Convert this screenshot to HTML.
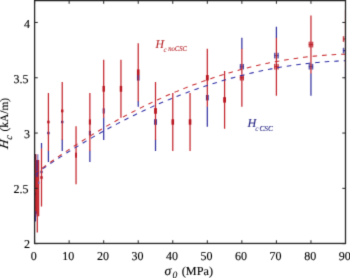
<!DOCTYPE html>
<html><head><meta charset="utf-8"><style>
html,body{margin:0;padding:0;background:#fff;}
body{width:350px;height:278px;overflow:hidden;}
svg{display:block;}
text{font-family:"Liberation Serif","DejaVu Serif",serif;text-rendering:geometricPrecision;}
.t text{font-size:12px;fill:#000;stroke:#000;stroke-width:0.12px;}
.i{font-style:italic;}
</style></head><body>
<svg width="350" height="278" viewBox="0 0 350 278">
<defs><filter id="b" x="0" y="0" width="350" height="278" filterUnits="userSpaceOnUse" color-interpolation-filters="sRGB"><feConvolveMatrix order="3" kernelMatrix="0.0144 0.0912 0.0144 0.0912 0.5776 0.0912 0.0144 0.0912 0.0144" edgeMode="duplicate"/></filter>
<clipPath id="c"><rect x="34.6" y="0" width="310.9" height="243.4"/></clipPath></defs>
<g filter="url(#b)">
<rect width="350" height="278" fill="#fff"/>
<g clip-path="url(#c)">
<line x1="35.40" y1="154.20" x2="35.40" y2="221.60" stroke="rgb(52,50,160)" stroke-width="1.25"/>
<line x1="37.80" y1="154.20" x2="37.80" y2="162.00" stroke="rgb(120,120,200)" stroke-width="1.25"/>
<line x1="41.51" y1="143.00" x2="41.51" y2="148.83" stroke="rgb(52,50,160)" stroke-width="1.25"/>
<line x1="48.42" y1="150.67" x2="48.42" y2="162.03" stroke="rgb(52,50,160)" stroke-width="1.25"/>
<line x1="62.24" y1="139.61" x2="62.24" y2="150.97" stroke="rgb(52,50,160)" stroke-width="1.25"/>
<line x1="89.87" y1="150.67" x2="89.87" y2="162.03" stroke="rgb(52,50,160)" stroke-width="1.25"/>
<line x1="103.69" y1="117.49" x2="103.69" y2="139.91" stroke="rgb(52,50,160)" stroke-width="1.25"/>
<line x1="138.23" y1="100.90" x2="138.23" y2="106.73" stroke="rgb(52,50,160)" stroke-width="1.25"/>
<line x1="155.51" y1="139.61" x2="155.51" y2="150.97" stroke="rgb(52,50,160)" stroke-width="1.25"/>
<line x1="207.32" y1="106.43" x2="207.32" y2="126.64" stroke="rgb(52,50,160)" stroke-width="1.25"/>
<line x1="241.87" y1="37.71" x2="241.87" y2="49.07" stroke="rgb(52,50,160)" stroke-width="1.25"/>
<line x1="276.41" y1="26.65" x2="276.41" y2="38.01" stroke="rgb(52,50,160)" stroke-width="1.25"/>
<line x1="310.96" y1="73.25" x2="310.96" y2="95.67" stroke="rgb(52,50,160)" stroke-width="1.25"/>
<line x1="345.50" y1="67.72" x2="345.50" y2="79.63" stroke="rgb(52,50,160)" stroke-width="1.25"/>
<rect x="40.41" y="170.78" width="2.2" height="2.4" fill="rgb(50,45,150)"/>
<rect x="47.22" y="131.85" width="2.4" height="2.4" fill="rgb(50,45,150)"/>
<rect x="61.04" y="120.79" width="2.4" height="2.4" fill="rgb(50,45,150)"/>
<rect x="88.87" y="130.85" width="2.0" height="4.4" fill="rgb(50,45,150)"/>
<rect x="102.69" y="108.33" width="2.0" height="5.2" fill="rgb(50,45,150)"/>
<rect x="136.93" y="74.95" width="2.6" height="5.6" fill="rgb(50,45,150)"/>
<rect x="154.11" y="119.19" width="2.8" height="5.6" fill="rgb(50,45,150)"/>
<rect x="205.92" y="94.96" width="2.8" height="5.4" fill="rgb(50,45,150)"/>
<rect x="239.87" y="63.99" width="4.00" height="5.40" fill="rgb(50,45,150)" fill-opacity="0.32"/>
<path d="M240.32,63.99V69.39M243.42,63.99V69.39M239.87,66.69H243.87" stroke="rgb(50,45,150)" stroke-width="0.85" fill="none"/>
<line x1="241.87" y1="63.99" x2="241.87" y2="69.39" stroke="rgb(50,45,150)" stroke-width="1" stroke-opacity="0.6"/>
<rect x="274.21" y="52.83" width="4.40" height="5.60" fill="rgb(50,45,150)" fill-opacity="0.32"/>
<path d="M274.66,52.83V58.43M278.16,52.83V58.43M274.21,55.63H278.61" stroke="rgb(50,45,150)" stroke-width="0.85" fill="none"/>
<line x1="276.41" y1="52.83" x2="276.41" y2="58.43" stroke="rgb(50,45,150)" stroke-width="1" stroke-opacity="0.6"/>
<rect x="308.76" y="63.89" width="4.40" height="5.60" fill="rgb(50,45,150)" fill-opacity="0.32"/>
<path d="M309.21,63.89V69.49M312.71,63.89V69.49M308.76,66.69H313.16" stroke="rgb(50,45,150)" stroke-width="0.85" fill="none"/>
<line x1="310.96" y1="63.89" x2="310.96" y2="69.49" stroke="rgb(50,45,150)" stroke-width="1" stroke-opacity="0.6"/>
<rect x="34.7" y="154.2" width="1.3" height="5.8" fill="rgb(105,25,60)"/>
<line x1="36.60" y1="154.20" x2="36.60" y2="160.00" stroke="rgb(228,130,128)" stroke-width="1.0"/>
<line x1="35.30" y1="159.80" x2="35.30" y2="211.00" stroke="rgb(196,38,45)" stroke-width="1.3"/>
<line x1="38.60" y1="160.00" x2="38.60" y2="216.30" stroke="rgb(196,38,45)" stroke-width="1.3"/>
<line x1="36.60" y1="177.00" x2="36.60" y2="214.00" stroke="rgb(196,38,45)" stroke-width="1.3"/>
<line x1="37.30" y1="165.00" x2="37.30" y2="232.60" stroke="rgb(196,38,45)" stroke-width="1.25"/>
<rect x="35.95" y="160" width="2.2" height="17" fill="rgb(115,45,110)"/>
<rect x="34.9" y="211" width="1.6" height="5.5" fill="rgb(110,45,125)"/>
<rect x="38.0" y="181.6" width="1.4" height="2.2" fill="rgb(120,90,170)"/>
<rect x="34.2" y="192.6" width="1.4" height="2.2" fill="rgb(120,20,30)"/>
<line x1="41.51" y1="148.53" x2="41.51" y2="206.49" stroke="rgb(196,38,45)" stroke-width="1.25"/>
<line x1="48.42" y1="93.01" x2="48.42" y2="150.97" stroke="rgb(196,38,45)" stroke-width="1.25"/>
<line x1="62.24" y1="81.95" x2="62.24" y2="139.91" stroke="rgb(196,38,45)" stroke-width="1.25"/>
<line x1="76.05" y1="126.19" x2="76.05" y2="184.15" stroke="rgb(196,38,45)" stroke-width="1.25"/>
<line x1="89.87" y1="93.01" x2="89.87" y2="150.97" stroke="rgb(196,38,45)" stroke-width="1.25"/>
<line x1="103.69" y1="59.83" x2="103.69" y2="117.79" stroke="rgb(196,38,45)" stroke-width="1.25"/>
<line x1="120.96" y1="59.83" x2="120.96" y2="117.79" stroke="rgb(196,38,45)" stroke-width="1.25"/>
<line x1="138.23" y1="43.24" x2="138.23" y2="101.20" stroke="rgb(196,38,45)" stroke-width="1.25"/>
<line x1="155.51" y1="81.95" x2="155.51" y2="139.91" stroke="rgb(196,38,45)" stroke-width="1.25"/>
<line x1="172.78" y1="93.01" x2="172.78" y2="150.97" stroke="rgb(196,38,45)" stroke-width="1.25"/>
<line x1="190.05" y1="93.01" x2="190.05" y2="150.97" stroke="rgb(196,38,45)" stroke-width="1.25"/>
<line x1="207.32" y1="48.77" x2="207.32" y2="106.73" stroke="rgb(196,38,45)" stroke-width="1.25"/>
<line x1="224.59" y1="70.89" x2="224.59" y2="128.85" stroke="rgb(196,38,45)" stroke-width="1.25"/>
<line x1="241.87" y1="48.77" x2="241.87" y2="106.73" stroke="rgb(196,38,45)" stroke-width="1.25"/>
<line x1="276.41" y1="37.71" x2="276.41" y2="95.67" stroke="rgb(196,38,45)" stroke-width="1.25"/>
<line x1="310.96" y1="15.59" x2="310.96" y2="73.55" stroke="rgb(196,38,45)" stroke-width="1.25"/>
<line x1="345.50" y1="10.06" x2="345.50" y2="68.02" stroke="rgb(196,38,45)" stroke-width="1.25"/>
<rect x="40.31" y="176.21" width="2.4" height="2.6" fill="rgb(185,22,32)"/>
<rect x="47.22" y="120.69" width="2.4" height="2.6" fill="rgb(185,22,32)"/>
<rect x="61.04" y="109.53" width="2.4" height="2.8" fill="rgb(185,22,32)"/>
<rect x="75.15" y="152.67" width="1.8" height="5" fill="rgb(185,22,32)"/>
<rect x="88.87" y="119.39" width="2.0" height="5.2" fill="rgb(185,22,32)"/>
<rect x="102.49" y="85.91" width="2.4" height="5.8" fill="rgb(185,22,32)"/>
<rect x="119.76" y="85.91" width="2.4" height="5.8" fill="rgb(185,22,32)"/>
<rect x="136.93" y="69.42" width="2.6" height="5.6" fill="rgb(185,22,32)"/>
<rect x="154.11" y="108.13" width="2.8" height="5.6" fill="rgb(185,22,32)"/>
<rect x="171.48" y="119.29" width="2.6" height="5.4" fill="rgb(185,22,32)"/>
<rect x="188.75" y="119.29" width="2.6" height="5.4" fill="rgb(185,22,32)"/>
<rect x="205.92" y="75.05" width="2.8" height="5.4" fill="rgb(185,22,32)"/>
<rect x="223.19" y="97.17" width="2.8" height="5.4" fill="rgb(185,22,32)"/>
<rect x="239.87" y="75.05" width="4.00" height="5.40" fill="rgb(185,22,32)" fill-opacity="0.32"/>
<path d="M240.32,75.05V80.45M243.42,75.05V80.45M239.87,77.75H243.87" stroke="rgb(185,22,32)" stroke-width="0.85" fill="none"/>
<line x1="241.87" y1="75.05" x2="241.87" y2="80.45" stroke="rgb(185,22,32)" stroke-width="1" stroke-opacity="0.6"/>
<rect x="274.21" y="63.89" width="4.40" height="5.60" fill="rgb(185,22,32)" fill-opacity="0.32"/>
<path d="M274.66,63.89V69.49M278.16,63.89V69.49M274.21,66.69H278.61" stroke="rgb(185,22,32)" stroke-width="0.85" fill="none"/>
<line x1="276.41" y1="63.89" x2="276.41" y2="69.49" stroke="rgb(185,22,32)" stroke-width="1" stroke-opacity="0.6"/>
<rect x="308.76" y="41.77" width="4.40" height="5.60" fill="rgb(185,22,32)" fill-opacity="0.32"/>
<path d="M309.21,41.77V47.37M312.71,41.77V47.37M308.76,44.57H313.16" stroke="rgb(185,22,32)" stroke-width="0.85" fill="none"/>
<line x1="310.96" y1="41.77" x2="310.96" y2="47.37" stroke="rgb(185,22,32)" stroke-width="1" stroke-opacity="0.6"/>
<rect x="343.10" y="36.24" width="2.4" height="5.6" fill="rgb(185,22,32)" fill-opacity="0.25"/>
<line x1="343.30" y1="36.24" x2="343.30" y2="41.84" stroke="rgb(185,22,32)" stroke-width="0.9"/>
<line x1="343.30" y1="39.04" x2="345.50" y2="39.04" stroke="rgb(185,22,32)" stroke-width="1.1"/>
<rect x="343.10" y="47.85" width="2.4" height="5.6" fill="rgb(50,45,150)" fill-opacity="0.25"/>
<line x1="343.30" y1="47.85" x2="343.30" y2="53.45" stroke="rgb(50,45,150)" stroke-width="0.9"/>
<line x1="343.30" y1="50.65" x2="345.50" y2="50.65" stroke="rgb(50,45,150)" stroke-width="1.1"/>
<path d="M34.60,174.37 L36.33,173.16 L38.05,171.96 L39.78,170.76 L41.51,169.57 L43.24,168.39 L44.96,167.21 L46.69,166.04 L48.42,164.88 L50.14,163.72 L51.87,162.57 L53.60,161.43 L55.33,160.29 L57.05,159.16 L58.78,158.03 L60.51,156.91 L62.24,155.80 L63.96,154.70 L65.69,153.60 L67.42,152.50 L69.14,151.42 L70.87,150.34 L72.60,149.26 L74.33,148.20 L76.05,147.14 L77.78,146.08 L79.51,145.03 L81.23,143.99 L82.96,142.96 L84.69,141.93 L86.42,140.91 L88.14,139.89 L89.87,138.88 L91.60,137.88 L93.33,136.89 L95.05,135.90 L96.78,134.91 L98.51,133.94 L100.23,132.97 L101.96,132.00 L103.69,131.04 L105.42,130.09 L107.14,129.15 L108.87,128.21 L110.60,127.28 L112.32,126.36 L114.05,125.44 L115.78,124.52 L117.51,123.62 L119.23,122.72 L120.96,121.83 L122.69,120.94 L124.42,120.06 L126.14,119.19 L127.87,118.32 L129.60,117.46 L131.32,116.61 L133.05,115.76 L134.78,114.92 L136.51,114.08 L138.23,113.26 L139.96,112.43 L141.69,111.62 L143.41,110.81 L145.14,110.01 L146.87,109.21 L148.60,108.42 L150.32,107.64 L152.05,106.86 L153.78,106.09 L155.51,105.33 L157.23,104.57 L158.96,103.82 L160.69,103.08 L162.41,102.34 L164.14,101.61 L165.87,100.89 L167.60,100.17 L169.32,99.46 L171.05,98.75 L172.78,98.05 L174.50,97.36 L176.23,96.67 L177.96,95.99 L179.69,95.32 L181.41,94.65 L183.14,93.99 L184.87,93.34 L186.60,92.69 L188.32,92.05 L190.05,91.42 L191.78,90.79 L193.50,90.17 L195.23,89.55 L196.96,88.94 L198.69,88.34 L200.41,87.75 L202.14,87.16 L203.87,86.58 L205.59,86.00 L207.32,85.43 L209.05,84.87 L210.78,84.31 L212.50,83.76 L214.23,83.22 L215.96,82.68 L217.69,82.15 L219.41,81.62 L221.14,81.10 L222.87,80.59 L224.59,80.09 L226.32,79.59 L228.05,79.10 L229.78,78.61 L231.50,78.13 L233.23,77.66 L234.96,77.19 L236.68,76.73 L238.41,76.28 L240.14,75.83 L241.87,75.39 L243.59,74.96 L245.32,74.53 L247.05,74.11 L248.78,73.69 L250.50,73.29 L252.23,72.88 L253.96,72.49 L255.68,72.10 L257.41,71.72 L259.14,71.34 L260.87,70.97 L262.59,70.61 L264.32,70.25 L266.05,69.90 L267.77,69.56 L269.50,69.22 L271.23,68.89 L272.96,68.57 L274.68,68.25 L276.41,67.94 L278.14,67.63 L279.87,67.33 L281.59,67.04 L283.32,66.76 L285.05,66.48 L286.77,66.20 L288.50,65.94 L290.23,65.68 L291.96,65.43 L293.68,65.18 L295.41,64.94 L297.14,64.70 L298.87,64.48 L300.59,64.26 L302.32,64.04 L304.05,63.83 L305.77,63.63 L307.50,63.44 L309.23,63.25 L310.96,63.07 L312.68,62.89 L314.41,62.72 L316.14,62.56 L317.86,62.40 L319.59,62.25 L321.32,62.11 L323.05,61.97 L324.77,61.84 L326.50,61.72 L328.23,61.60 L329.95,61.49 L331.68,61.38 L333.41,61.29 L335.14,61.19 L336.86,61.11 L338.59,61.03 L340.32,60.96 L342.05,60.89 L343.77,60.83 L345.50,60.78" fill="none" stroke="rgb(45,45,165)" stroke-width="1.05" stroke-dasharray="4.6 4.945"/>
<path d="M34.60,173.71 L36.33,172.43 L38.05,171.16 L39.78,169.89 L41.51,168.63 L43.24,167.38 L44.96,166.14 L46.69,164.90 L48.42,163.67 L50.14,162.44 L51.87,161.22 L53.60,160.01 L55.33,158.81 L57.05,157.61 L58.78,156.42 L60.51,155.24 L62.24,154.06 L63.96,152.89 L65.69,151.73 L67.42,150.58 L69.14,149.43 L70.87,148.29 L72.60,147.15 L74.33,146.02 L76.05,144.90 L77.78,143.79 L79.51,142.68 L81.23,141.58 L82.96,140.49 L84.69,139.40 L86.42,138.32 L88.14,137.25 L89.87,136.18 L91.60,135.12 L93.33,134.07 L95.05,133.02 L96.78,131.98 L98.51,130.95 L100.23,129.93 L101.96,128.91 L103.69,127.90 L105.42,126.89 L107.14,125.90 L108.87,124.91 L110.60,123.92 L112.32,122.95 L114.05,121.98 L115.78,121.01 L117.51,120.06 L119.23,119.11 L120.96,118.17 L122.69,117.23 L124.42,116.30 L126.14,115.38 L127.87,114.46 L129.60,113.56 L131.32,112.66 L133.05,111.76 L134.78,110.87 L136.51,109.99 L138.23,109.12 L139.96,108.25 L141.69,107.39 L143.41,106.54 L145.14,105.69 L146.87,104.85 L148.60,104.02 L150.32,103.20 L152.05,102.38 L153.78,101.57 L155.51,100.76 L157.23,99.96 L158.96,99.17 L160.69,98.39 L162.41,97.61 L164.14,96.84 L165.87,96.08 L167.60,95.32 L169.32,94.57 L171.05,93.83 L172.78,93.09 L174.50,92.36 L176.23,91.64 L177.96,90.92 L179.69,90.22 L181.41,89.51 L183.14,88.82 L184.87,88.13 L186.60,87.45 L188.32,86.78 L190.05,86.11 L191.78,85.45 L193.50,84.79 L195.23,84.15 L196.96,83.51 L198.69,82.88 L200.41,82.25 L202.14,81.63 L203.87,81.02 L205.59,80.41 L207.32,79.81 L209.05,79.22 L210.78,78.64 L212.50,78.06 L214.23,77.49 L215.96,76.92 L217.69,76.37 L219.41,75.82 L221.14,75.27 L222.87,74.74 L224.59,74.21 L226.32,73.68 L228.05,73.17 L229.78,72.66 L231.50,72.16 L233.23,71.66 L234.96,71.17 L236.68,70.69 L238.41,70.22 L240.14,69.75 L241.87,69.29 L243.59,68.83 L245.32,68.38 L247.05,67.94 L248.78,67.51 L250.50,67.08 L252.23,66.66 L253.96,66.25 L255.68,65.85 L257.41,65.45 L259.14,65.05 L260.87,64.67 L262.59,64.29 L264.32,63.92 L266.05,63.55 L267.77,63.20 L269.50,62.85 L271.23,62.50 L272.96,62.16 L274.68,61.83 L276.41,61.51 L278.14,61.19 L279.87,60.88 L281.59,60.58 L283.32,60.28 L285.05,60.00 L286.77,59.71 L288.50,59.44 L290.23,59.17 L291.96,58.91 L293.68,58.65 L295.41,58.41 L297.14,58.16 L298.87,57.93 L300.59,57.70 L302.32,57.48 L304.05,57.27 L305.77,57.06 L307.50,56.86 L309.23,56.67 L310.96,56.48 L312.68,56.30 L314.41,56.13 L316.14,55.97 L317.86,55.81 L319.59,55.66 L321.32,55.51 L323.05,55.37 L324.77,55.24 L326.50,55.12 L328.23,55.00 L329.95,54.89 L331.68,54.79 L333.41,54.69 L335.14,54.60 L336.86,54.52 L338.59,54.44 L340.32,54.37 L342.05,54.31 L343.77,54.26 L345.50,54.21" fill="none" stroke="rgb(200,40,45)" stroke-width="1.05" stroke-dasharray="4.6 4.945"/>
</g>
<rect x="34.6" y="0.6" width="310.9" height="242.85" fill="none" stroke="#262626" stroke-width="1.3"/>
<line x1="34.60" y1="243.45" x2="34.60" y2="240.25" stroke="#262626" stroke-width="1"/>
<line x1="34.60" y1="0.6" x2="34.60" y2="3.80" stroke="#262626" stroke-width="1"/>
<line x1="69.14" y1="243.45" x2="69.14" y2="240.25" stroke="#262626" stroke-width="1"/>
<line x1="69.14" y1="0.6" x2="69.14" y2="3.80" stroke="#262626" stroke-width="1"/>
<line x1="103.69" y1="243.45" x2="103.69" y2="240.25" stroke="#262626" stroke-width="1"/>
<line x1="103.69" y1="0.6" x2="103.69" y2="3.80" stroke="#262626" stroke-width="1"/>
<line x1="138.23" y1="243.45" x2="138.23" y2="240.25" stroke="#262626" stroke-width="1"/>
<line x1="138.23" y1="0.6" x2="138.23" y2="3.80" stroke="#262626" stroke-width="1"/>
<line x1="172.78" y1="243.45" x2="172.78" y2="240.25" stroke="#262626" stroke-width="1"/>
<line x1="172.78" y1="0.6" x2="172.78" y2="3.80" stroke="#262626" stroke-width="1"/>
<line x1="207.32" y1="243.45" x2="207.32" y2="240.25" stroke="#262626" stroke-width="1"/>
<line x1="207.32" y1="0.6" x2="207.32" y2="3.80" stroke="#262626" stroke-width="1"/>
<line x1="241.87" y1="243.45" x2="241.87" y2="240.25" stroke="#262626" stroke-width="1"/>
<line x1="241.87" y1="0.6" x2="241.87" y2="3.80" stroke="#262626" stroke-width="1"/>
<line x1="276.41" y1="243.45" x2="276.41" y2="240.25" stroke="#262626" stroke-width="1"/>
<line x1="276.41" y1="0.6" x2="276.41" y2="3.80" stroke="#262626" stroke-width="1"/>
<line x1="310.96" y1="243.45" x2="310.96" y2="240.25" stroke="#262626" stroke-width="1"/>
<line x1="310.96" y1="0.6" x2="310.96" y2="3.80" stroke="#262626" stroke-width="1"/>
<line x1="345.50" y1="243.45" x2="345.50" y2="240.25" stroke="#262626" stroke-width="1"/>
<line x1="345.50" y1="0.6" x2="345.50" y2="3.80" stroke="#262626" stroke-width="1"/>
<line x1="34.6" y1="243.65" x2="37.800000000000004" y2="243.65" stroke="#262626" stroke-width="1"/>
<line x1="345.5" y1="243.65" x2="342.3" y2="243.65" stroke="#262626" stroke-width="1"/>
<line x1="34.6" y1="188.35" x2="37.800000000000004" y2="188.35" stroke="#262626" stroke-width="1"/>
<line x1="345.5" y1="188.35" x2="342.3" y2="188.35" stroke="#262626" stroke-width="1"/>
<line x1="34.6" y1="133.05" x2="37.800000000000004" y2="133.05" stroke="#262626" stroke-width="1"/>
<line x1="345.5" y1="133.05" x2="342.3" y2="133.05" stroke="#262626" stroke-width="1"/>
<line x1="34.6" y1="77.75" x2="37.800000000000004" y2="77.75" stroke="#262626" stroke-width="1"/>
<line x1="345.5" y1="77.75" x2="342.3" y2="77.75" stroke="#262626" stroke-width="1"/>
<line x1="34.6" y1="22.45" x2="37.800000000000004" y2="22.45" stroke="#262626" stroke-width="1"/>
<line x1="345.5" y1="22.45" x2="342.3" y2="22.45" stroke="#262626" stroke-width="1"/>
<g class="t">
<text x="33.80" y="260.1" text-anchor="middle">0</text>
<text x="68.34" y="260.1" text-anchor="middle">10</text>
<text x="102.89" y="260.1" text-anchor="middle">20</text>
<text x="137.43" y="260.1" text-anchor="middle">30</text>
<text x="171.98" y="260.1" text-anchor="middle">40</text>
<text x="206.52" y="260.1" text-anchor="middle">50</text>
<text x="241.07" y="260.1" text-anchor="middle">60</text>
<text x="275.61" y="260.1" text-anchor="middle">70</text>
<text x="310.16" y="260.1" text-anchor="middle">80</text>
<text x="344.70" y="260.1" text-anchor="middle">90</text>
<text x="30.00" y="248.35" text-anchor="end">2</text>
<text x="28.60" y="193.05" text-anchor="end">2.5</text>
<text x="30.00" y="137.75" text-anchor="end">3</text>
<text x="28.50" y="83.45" text-anchor="end">3.5</text>
<text x="30.00" y="27.95" text-anchor="end">4</text>
</g>
<g class="i" fill="#b41e23" stroke="#b41e23" stroke-width="0.08"><text x="155.5" y="47.6" font-size="11.7">H</text><text x="163.6" y="51.7" font-size="7.2" stroke-width="0">c</text><text x="168.2" y="51.4" font-size="7.4" stroke-width="0.08" textLength="18.8" lengthAdjust="spacingAndGlyphs">noCSC</text></g>
<g class="i" fill="#232382" stroke="#232382" stroke-width="0.08"><text x="247.4" y="127.0" font-size="12.2">H</text><text x="255.3" y="130.8" font-size="7.4" stroke-width="0">c</text><text x="259.4" y="130.8" font-size="7.6" stroke-width="0.08" textLength="13.6" lengthAdjust="spacingAndGlyphs">CSC</text></g>
<g fill="#000" stroke="#000" stroke-width="0.12">
<g transform="translate(8.1,149.3) rotate(-90)"><text x="0" y="0" font-size="12.6" class="i" transform="skewX(-9)">H</text><g transform="translate(9.3,4.0) skewX(-6)"><text x="0" y="0" font-size="10" class="i">c</text></g><text x="17.9" y="0.1" font-size="11.35">(kA/m)</text></g>
<text x="164.6" y="275.0" font-size="13.5" class="i">σ</text>
<text x="172.6" y="277.9" font-size="9.6" class="i">0</text>
<text x="181.8" y="274.7" font-size="12.2">(MPa)</text>
</g>
</g>
</svg>
</body></html>
